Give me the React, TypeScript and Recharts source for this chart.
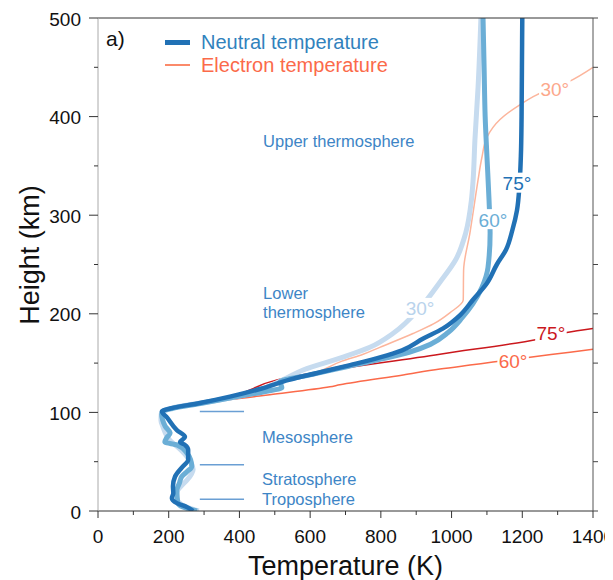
import React from 'react';
import { LineChart, Line, XAxis, YAxis, ReferenceLine, ReferenceDot, Legend, Label } from 'recharts';

// ---- data: [temperature K, height km] ----
const neutral30: [number, number][] = [[285,0],[250,4],[228,9],[222,14],[224,20],[240,27],[251,31],[265,38],[269,42],[262,50],[245,58],[225,65],[205,71],[195,76],[184,85],[178,92],[179,99],[195,103],[230,106],[300,110],[380,115],[460,123],[523,133],[580,143],[693,156],[769,166],[834,180],[911,206],[967,232],[1012,255],[1040,282],[1056,315],[1061,336],[1066,376],[1075,430],[1083,500]];
const neutral60: [number, number][] = [[280,0],[240,4],[226,8],[224,14],[223,21],[230,28],[237,35],[252,40],[265,45],[262,52],[251,59],[223,67],[189,70],[194,74],[204,79],[190,86],[183,92],[180,98],[183,101],[210,104],[290,109],[380,115],[470,121],[520,125],[515,131],[600,138],[700,146],[800,154],[880,161],[940,169],[990,181],[1030,196],[1060,210],[1086,227],[1103,247],[1109,282],[1106,315],[1100,360],[1095,400],[1092,450],[1089,500]];
const neutral75: [number, number][] = [[269,0],[251,4],[223,8],[209,13],[213,18],[212,25],[218,35],[237,44],[255,52],[255,62],[246,67],[232,70],[246,75],[223,82],[195,95],[181,101],[204,104],[288,109.5],[373,116],[460,124],[540,133],[620,140],[713,148],[800,156],[860,163],[920,175],[975,185],[1025,199],[1060,214],[1100,231],[1128,250],[1154,265],[1172,285],[1185,305],[1192,330],[1196,360],[1198,400],[1199,450],[1200,500]];
const electron30: [number, number][] = [[380,116],[460,124],[540,133],[620,141],[690,152],[750,159],[797,166],[891,180],[950,190],[995,201],[1033,214],[1034,244],[1052,282],[1066,315],[1075,336],[1086,359],[1100,379],[1137,397],[1193,412],[1241,422],[1329,435],[1400,450]];
const electron60: [number, number][] = [[290,110],[373,113],[486,118],[656,126],[684,128],[863,138],[967,144],[1052,148],[1117,151],[1222,156],[1335,161],[1400,164]];
const electron75: [number, number][] = [[290,110],[373,116],[506,133],[967,159],[1241,174],[1326,181],[1400,185]];

const xMajorTicks = [0, 200, 400, 600, 800, 1000, 1200, 1400];
const xMinorTicks = [100, 300, 500, 700, 900, 1100, 1300];
const yMajorTicks = [0, 100, 200, 300, 400, 500];
const yMinorTicks = [50, 150, 250, 350, 450];

// curve labels: [T, H, text, colour]
const curveLabels: [number, number, string, string][] = [
  [1292, 429, '30°', '#fca88c'],
  [1185, 333, '75°', '#2171b5'],
  [1117, 296, '60°', '#6baed6'],
  [911, 206, '30°', '#b9d3ec'],
  [1281, 181, '75°', '#cb181d'],
  [1174, 153, '60°', '#fb6a4a'],
];
// region names: [T, H, text]
const regionLabels: [number, number, string][] = [
  [467, 375, 'Upper thermosphere'],
  [467, 221, 'Lower'],
  [467, 202, 'thermosphere'],
  [464, 75, 'Mesosphere'],
  [464, 32, 'Stratosphere'],
  [464, 12, 'Troposphere'],
];
// layer boundaries (km) and their short marker span (K)
const boundaries = [101, 47, 12];
const boundarySpan = [288, 413];

const FONT = '"Liberation Sans", Arial, Helvetica, sans-serif';
const toPts = (a: [number, number][]) => a.map(([T, H]) => ({ T, H }));
const xTicks = [...xMajorTicks, ...xMinorTicks].sort((a, b) => a - b);
const yTicks = [...yMajorTicks, ...yMinorTicks].sort((a, b) => a - b);

const BottomTick = (p: any) => {
  const major = xMajorTicks.includes(p.payload.value);
  return (
    <g>
      <line x1={p.x} x2={p.x} y1={p.y} y2={p.y + (major ? 7 : 4)} stroke="#333" />
      {major && (
        <text x={p.x} y={p.y + 25} textAnchor="middle" dominantBaseline="central" fontSize={19} fontFamily={FONT} fill="#111">
          {p.payload.value}
        </text>
      )}
    </g>
  );
};
const TopTick = (p: any) => {
  const major = xMajorTicks.includes(p.payload.value);
  return <line x1={p.x} x2={p.x} y1={p.y} y2={p.y - (major ? 8 : 4)} stroke="#333" />;
};
const LeftTick = (p: any) => {
  const major = yMajorTicks.includes(p.payload.value);
  return (
    <g>
      <line x1={p.x} x2={p.x - (major ? 9 : 4)} y1={p.y} y2={p.y} stroke="#333" />
      {major && (
        <text x={p.x - 17} y={p.y + 1} textAnchor="end" dominantBaseline="central" fontSize={19} fontFamily={FONT} fill="#111">
          {p.payload.value}
        </text>
      )}
    </g>
  );
};
const RightTick = (p: any) => <line x1={p.x} x2={p.x + 5} y1={p.y} y2={p.y} stroke="#444" />;

const LegendContent = () => (
  <div style={{ position: 'relative', width: 320, height: 60, fontFamily: FONT }}>
    <div style={{ position: 'absolute', left: 3, top: 8, fontSize: 21, color: '#111', lineHeight: '24px' }}>a)</div>
    <div style={{ position: 'absolute', left: 62, top: 21, width: 25, height: 5, background: '#2171b5' }} />
    <div style={{ position: 'absolute', left: 98, top: 11, fontSize: 20, color: '#3182bd', lineHeight: '24px', whiteSpace: 'nowrap' }}>Neutral temperature</div>
    <div style={{ position: 'absolute', left: 62, top: 45, width: 25, height: 1.5, background: '#fb8a6a' }} />
    <div style={{ position: 'absolute', left: 98, top: 34, fontSize: 20, color: '#fb6a4a', lineHeight: '24px', whiteSpace: 'nowrap' }}>Electron temperature</div>
  </div>
);

const curveLabelShape = (text: string, color: string) => (p: any) => {
  const w = text.length * 10.5;
  return (
    <g>
      <rect x={p.cx - w / 2} y={p.cy - 10} width={w} height={20} fill="#fff" />
      <text x={p.cx} y={p.cy + 1} textAnchor="middle" dominantBaseline="central" fontSize={19} fontFamily={FONT} fill={color}>{text}</text>
    </g>
  );
};
const regionShape = (text: string) => (p: any) => (
  <text x={p.cx} y={p.cy} textAnchor="start" dominantBaseline="central" fontSize={16.5} fontFamily={FONT} fill="#3d85c6">{text}</text>
);

export default function App() {
  return (
    <LineChart width={605} height={572} margin={{ top: 0, right: 10, bottom: 9, left: 30 }}>
      <XAxis type="number" dataKey="T" domain={[0, 1400]} ticks={xTicks} interval={0} allowDataOverflow
        height={60} tickSize={0} tickMargin={0} tickLine={false} tick={BottomTick} axisLine={{ stroke: '#333' }}>
        <Label content={(p: any) => {
          const vb = p.viewBox;
          return <text x={vb.x + vb.width / 2} y={vb.y + 55} textAnchor="middle" dominantBaseline="central" fontSize={27} fontFamily={FONT} fill="#111">Temperature (K)</text>;
        }} />
      </XAxis>
      <XAxis xAxisId="top" orientation="top" type="number" domain={[0, 1400]} ticks={xTicks} interval={0} allowDataOverflow
        height={10} tickSize={0} tickMargin={0} tickLine={false} tick={TopTick} axisLine={{ stroke: '#333' }} />
      <YAxis type="number" domain={[0, 500]} ticks={yTicks} interval={0} allowDataOverflow
        width={60} tickSize={0} tickMargin={0} tickLine={false} tick={LeftTick} axisLine={{ stroke: '#aaa' }}>
        <Label content={(p: any) => {
          const vb = p.viewBox;
          const cx = vb.x - 8;
          const cy = 247;
          return <text x={cx} y={cy} transform={`rotate(-90 ${cx} ${cy})`} textAnchor="middle" dominantBaseline="central" fontSize={27} fontFamily={FONT} fill="#111">Height (km)</text>;
        }} />
      </YAxis>
      <YAxis yAxisId="right" orientation="right" type="number" domain={[0, 500]} ticks={yTicks} interval={0} allowDataOverflow
        width={10} tickSize={0} tickMargin={0} tickLine={false} tick={RightTick} axisLine={{ stroke: '#555' }} />

      {boundaries.map((h) => (
        <ReferenceLine key={h} segment={[{ x: boundarySpan[0], y: h }, { x: boundarySpan[1], y: h }]} stroke="#6a9fd4" strokeWidth={1.5} />
      ))}

      <Line data={toPts(electron30)} dataKey="H" type="monotoneY" stroke="#fcb59c" strokeWidth={1.5} dot={false} activeDot={false} isAnimationActive={false} />
      <Line data={toPts(electron60)} dataKey="H" type="monotoneY" stroke="#fb6a4a" strokeWidth={1.5} dot={false} activeDot={false} isAnimationActive={false} />
      <Line data={toPts(electron75)} dataKey="H" type="monotoneY" stroke="#cb181d" strokeWidth={1.5} dot={false} activeDot={false} isAnimationActive={false} />
      <Line data={toPts(neutral30)} dataKey="H" type="monotoneY" stroke="#c6dbef" strokeWidth={5} dot={false} activeDot={false} isAnimationActive={false} />
      <Line data={toPts(neutral60)} dataKey="H" type="monotoneY" stroke="#6baed6" strokeWidth={5} dot={false} activeDot={false} isAnimationActive={false} />
      <Line data={toPts(neutral75)} dataKey="H" type="monotoneY" stroke="#2171b5" strokeWidth={4.5} dot={false} activeDot={false} isAnimationActive={false} />

      {regionLabels.map(([T, H, text]) => (
        <ReferenceDot key={text} x={T} y={H} r={0} shape={regionShape(text)} />
      ))}
      {curveLabels.map(([T, H, text, color]) => (
        <ReferenceDot key={text + color} x={T} y={H} r={0} shape={curveLabelShape(text, color)} />
      ))}

      <Legend layout="vertical" verticalAlign="middle" align="center" content={LegendContent}
        wrapperStyle={{ left: 95, top: 11, width: 320, height: 60 }} />
    </LineChart>
  );
}
